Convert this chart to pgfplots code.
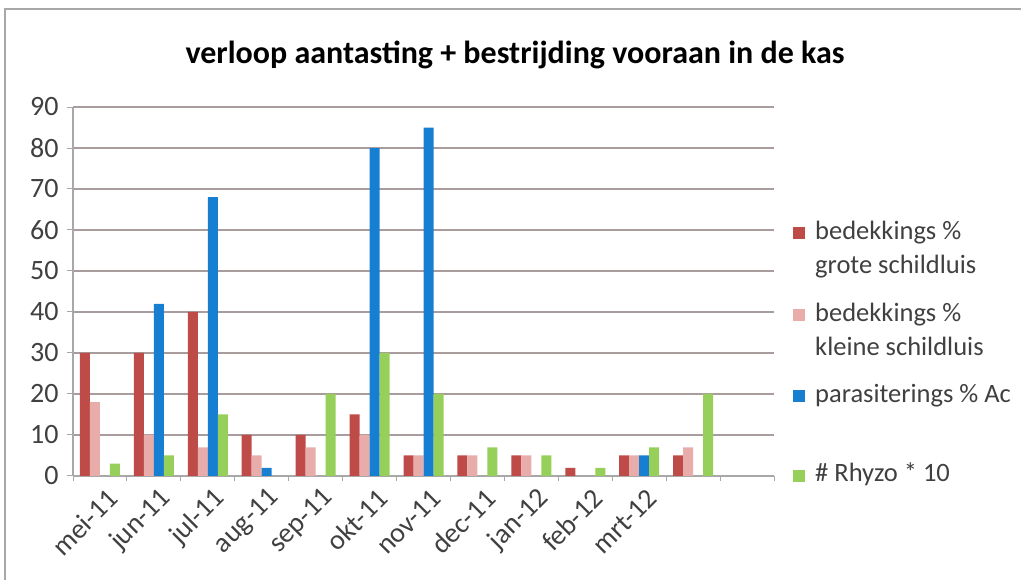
\documentclass[border=0pt]{standalone}
\usepackage{fontspec}
\setmainfont{Carlito}
\usepackage{pgfplots}
\pgfplotsset{compat=1.18}
\definecolor{cred}{HTML}{BE4B48}
\definecolor{cpink}{HTML}{E8ADAB}
\definecolor{cblue}{HTML}{177FD2}
\definecolor{cgreen}{HTML}{96D05A}
\definecolor{gridc}{HTML}{A89C9C}
\definecolor{axisc}{HTML}{A8A8A8}
\definecolor{textc}{HTML}{404040}
\newcommand{\st}[1]{\rule{0pt}{#1pt}}
\begin{document}
\begin{tikzpicture}[x=1pt,y=1pt]
\path[use as bounding box] (0,0) rectangle (1021,580);
\draw[color=axisc, line width=1.5pt] (5,0) -- (5,571) -- (1021,571);
\node[font=\bfseries\fontsize{32}{38}\selectfont, text=black] at (515,525) {verloop aantasting + bestrijding vooraan in de kas};
\begin{axis}[
  at={(73pt,104pt)}, anchor=south west,
  width=701pt, height=369pt, scale only axis,
  ymin=0, ymax=90, ytick={0,10,...,90},
  xmin=-0.5, xmax=12.5,
  xtick={0,...,10},
  xticklabels={mei-11,jun-11,jul-11,aug-11,sep-11,okt-11,nov-11,dec-11,jan-12,feb-12,mrt-12},
  minor xtick={-0.5,0.5,...,12.5},
  major x tick style={draw=none},
  tick align=outside,
  major tick length=6pt, minor tick length=5pt,
  tick style={color=axisc, line width=1pt},
  axis x line*=bottom, axis y line*=left,
  axis line style={-, color=axisc, line width=1.2pt},
  ymajorgrids, grid style={color=gridc, line width=1.2pt},
  ybar=0pt, bar width=10pt,
  ticklabel style={font=\fontsize{28}{32}\selectfont, text=textc},
  /pgf/number format/assume math mode=true,
  yticklabel shift=5pt,
  yticklabel style={anchor=east},
  xticklabel style={xshift=13pt, yshift=-12pt, anchor=east, rotate=45, inner sep=0pt},
  legend style={at={(1.0271,0.6965)}, anchor=north west, draw=none, fill=none,
    font=\fontsize{26.5}{32}\selectfont, text=textc, row sep=0pt, inner sep=0pt,
    column sep=10pt, nodes={inner sep=0pt},
    cells={anchor=base west}},
  legend image code/.code={\fill[#1,draw=none] (0pt,0pt) rectangle (12pt,12pt);},
]
\addplot[fill=cred, draw=none] coordinates {(0,30) (1,30) (2,40) (3,10) (4,10) (5,15) (6,5) (7,5) (8,5) (9,2) (10,5) (11,5)};
\addlegendentry{\st{20}bedekkings \%}
\addlegendimage{empty legend}
\addlegendentry{\st{33}grote schildluis}
\addplot[fill=cpink, draw=none] coordinates {(0,18) (1,10) (2,7) (3,5) (4,7) (5,10) (6,5) (7,5) (8,5) (10,5) (11,7)};
\addlegendentry{\st{46}bedekkings \%}
\addlegendimage{empty legend}
\addlegendentry{\st{33}kleine schildluis}
\addplot[fill=cblue, draw=none] coordinates {(1,42) (2,68) (3,2) (5,80) (6,85) (10,5)};
\addlegendentry{\st{45}parasiterings \% Ac}
\addplot[fill=cgreen, draw=none] coordinates {(0,3) (1,5) (2,15) (4,20) (5,30) (6,20) (7,7) (8,5) (9,2) (10,7) (11,20)};
\addlegendentry{\st{78}\# Rhyzo * 10}
\end{axis}
\end{tikzpicture}
\end{document}
